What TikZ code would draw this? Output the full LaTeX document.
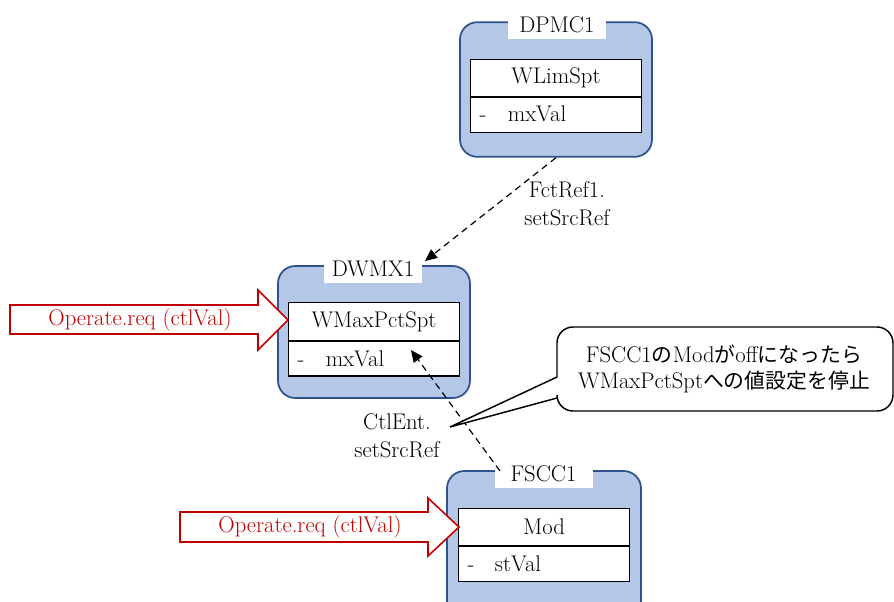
\documentclass[tikz,border=0pt]{standalone}
\usepackage{fontspec}
\newfontfamily\cjk{Noto Sans CJK JP}[Scale=0.92]
\usetikzlibrary{arrows.meta}
\definecolor{boxfill}{HTML}{B4C7E7}
\definecolor{boxline}{HTML}{2F528F}
\definecolor{redline}{HTML}{C00000}
\tikzset{
  x=0.75pt, y=-0.75pt,
  every node/.style={font=\fontsize{17}{20}\selectfont, inner sep=0pt},
  outerbox/.style={draw=boxline, fill=boxfill, line width=1.3pt, rounded corners=13pt},
  titlebox/.style={fill=white, minimum width=73.5pt, minimum height=21pt},
  classtop/.style={draw=black, fill=white, line width=0.9pt, minimum width=128pt, minimum height=28pt},
  classbot/.style={draw=black, fill=white, line width=0.9pt, minimum width=128pt, minimum height=26pt},
  blockarrow/.style={draw=redline, fill=white, line width=1.2pt},
  redtext/.style={text=redline},
  depline/.style={dashed, line width=0.9pt, dash pattern=on 5pt off 3.5pt, -{Triangle[length=9pt,width=8pt]}},
  callout/.style={draw=black, fill=white, line width=1.1pt},
  lbl/.style={align=center, font=\fontsize{17}{21}\selectfont}
}
\begin{document}
\begin{tikzpicture}
\clip (0,0) rectangle (894,601);
\fill[white] (0,0) rectangle (894,601);

% DPMC1
\node[outerbox, minimum width=144pt, minimum height=101pt] (dpmc) at (556,89.5) {};
\node[titlebox] (dpmcT) at (557,25) {DPMC1};
\node[classtop] (dpmcA) at (556,78) {WLimSpt};
\node[classbot, anchor=north] (dpmcB) at (dpmcA.south) {};
\node (dpmcV) at (537,114) {mxVal};
\node[anchor=base west] (dpmcD) at ([xshift=7pt]dpmcB.west |- dpmcV.base) {-};

% DWMX1
\node[outerbox, minimum width=144pt, minimum height=99pt] (dwmx) at (374,332) {};
\node[titlebox] (dwmxT) at (373,268.5) {DWMX1};
\node[classtop] (dwmxA) at (374,321.5) {WMaxPctSpt};
\node[classbot, anchor=north] (dwmxB) at (dwmxA.south) {};
\node (dwmxV) at (355,359) {mxVal};
\node[anchor=base west] (dwmxD) at ([xshift=7pt]dwmxB.west |- dwmxV.base) {-};

% FSCC1
\node[outerbox, minimum width=145.5pt, minimum height=120pt] (fscc) at (544,551) {};
\node[titlebox] (fsccT) at (543.5,474) {FSCC1};
\node[classtop] (fsccA) at (544,527) {Mod};
\node[classbot, anchor=north] (fsccB) at (fsccA.south) {};
\node (fsccV) at (518,564) {stVal};
\node[anchor=base west] (fsccD) at ([xshift=7pt]fsccB.west |- fsccV.base) {-};

% block arrows
\draw[blockarrow] (10,305) -- (258,305) -- (258,290) -- (288,320) -- (258,350) -- (258,334) -- (10,334) -- cycle;
\node[redtext] (op1) at (140,320) {Operate.req (ctlVal)};
\draw[blockarrow] (180,512) -- (428,512) -- (428,498) -- (459,527) -- (428,556) -- (428,542) -- (180,542) -- cycle;
\node[redtext] (op2) at (310,527) {Operate.req (ctlVal)};

% dependency arrows
\coordinate (t1) at (425,261);
\draw[depline] (dpmc.south) -- (t1);
\node[lbl] (l1) at (567,204) {FctRef1.\\setSrcRef};
\coordinate (s2) at (500,471);
\coordinate (t2) at (411,350);
\draw[depline] (s2) -- (t2);
\node[lbl] (l2) at (397,436) {CtlEnt.\\setSrcRef};

% callout
\draw[callout] (557,377) [rounded corners=12pt] -- (557,327) -- (893,327) -- (893,411) -- (557,411) [sharp corners] -- (557,398) -- (450,427) -- cycle;
\node[align=center, font=\fontsize{17}{20}\selectfont] (note) at (724,369) {FSCC1{\cjk の}Mod{\cjk が}off{\cjk になったら}\\WMaxPctSpt{\cjk への値設定を停止}};
\end{tikzpicture}
\end{document}
